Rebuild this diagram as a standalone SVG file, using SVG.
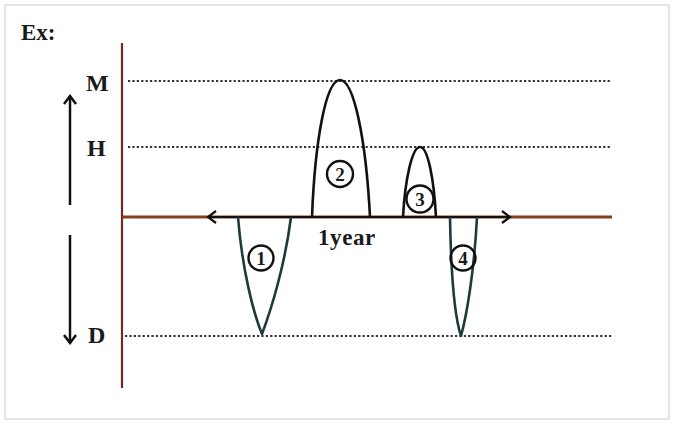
<svg xmlns="http://www.w3.org/2000/svg" width="674" height="424" viewBox="0 0 674 424">
<defs>
<marker id="openL" markerWidth="14" markerHeight="14" refX="2" refY="7" orient="auto" markerUnits="userSpaceOnUse">
<path d="M10,1 L2,7 L10,13" fill="none" stroke="#111" stroke-width="2.2"/>
</marker>
<marker id="openR" markerWidth="14" markerHeight="14" refX="12" refY="7" orient="auto" markerUnits="userSpaceOnUse">
<path d="M4,1 L12,7 L4,13" fill="none" stroke="#111" stroke-width="2.2"/>
</marker>
<marker id="arrowUp" markerWidth="14" markerHeight="14" refX="12" refY="7" orient="auto" markerUnits="userSpaceOnUse">
<path d="M4,1 L12,7 L4,13" fill="none" stroke="#111" stroke-width="2.5"/>
</marker>
</defs>
<style>
text{font-family:"Liberation Serif","Times New Roman",serif;font-weight:bold;fill:#1a1a1a}
.lbl{font-size:24px}
.num{font-size:19px;text-anchor:middle}
.dot{stroke:#333;stroke-width:2.2;stroke-dasharray:2.2 2.2;fill:none}
.curve{fill:none;stroke-width:2.6;stroke-linejoin:round}
.blk{stroke:#111}
.teal{stroke:#1d3b3a}
.ring{fill:none;stroke:#111;stroke-width:2.4}
</style>
<rect x="0" y="0" width="674" height="424" fill="#ffffff"/>
<rect x="5" y="5" width="664" height="414" fill="none" stroke="#e4e4e4" stroke-width="2"/>
<g id="title"><text x="21" y="40" style="font-size:23px">Ex:</text></g>
<g id="axes">
<line x1="122" y1="43" x2="122" y2="388" stroke="#6e2a1c" stroke-width="2.2"/>
<line x1="122" y1="217" x2="612" y2="217" stroke="#8a3f1c" stroke-width="2.8"/>
</g>
<g id="levels">
<line class="dot" x1="128" y1="81" x2="612" y2="81"/>
<line class="dot" x1="128" y1="147" x2="612" y2="147"/>
<line class="dot" x1="125" y1="336" x2="612" y2="336"/>
<text x="86" y="91" class="lbl">M</text>
<text x="87" y="156" class="lbl">H</text>
<text x="88" y="343" class="lbl">D</text>
</g>
<g id="connectors">
<line x1="70" y1="205" x2="70" y2="96" stroke="#111" stroke-width="2.5" marker-end="url(#arrowUp)"/>
<line x1="70" y1="235" x2="70" y2="343" stroke="#111" stroke-width="2.5" marker-end="url(#arrowUp)"/>
<line x1="208" y1="217" x2="510" y2="217" stroke="#111" stroke-width="2" marker-start="url(#openL)" marker-end="url(#openR)"/>
</g>
<g id="year"><text x="318" y="245" style="font-size:23px;letter-spacing:0.6px">1year</text></g>
<g id="node1">
<path class="curve teal" d="M238,217 C242,268 253,312 262,334 C271,310 285,265 291,217"/>
<circle class="ring" cx="261" cy="258" r="12.5"/>
<text x="261" y="265" class="num">1</text>
</g>
<g id="node2">
<path class="curve blk" d="M312,217 C315,140 326,80 340,80 C354,80 366,140 370,217"/>
<circle class="ring" cx="340" cy="174" r="13"/>
<text x="340" y="181" class="num">2</text>
</g>
<g id="node3">
<path class="curve blk" d="M403,217 C405,180 412,147 420,147 C428,147 434,180 436,217"/>
<circle class="ring" cx="420" cy="199" r="13.5"/>
<text x="420" y="206" class="num">3</text>
</g>
<g id="node4">
<path class="curve teal" d="M450,217 C451,275 455,318 461,336 C466,318 474,275 477,217"/>
<circle class="ring" cx="463" cy="258" r="12.5"/>
<text x="463" y="265" class="num">4</text>
</g>
</svg>
